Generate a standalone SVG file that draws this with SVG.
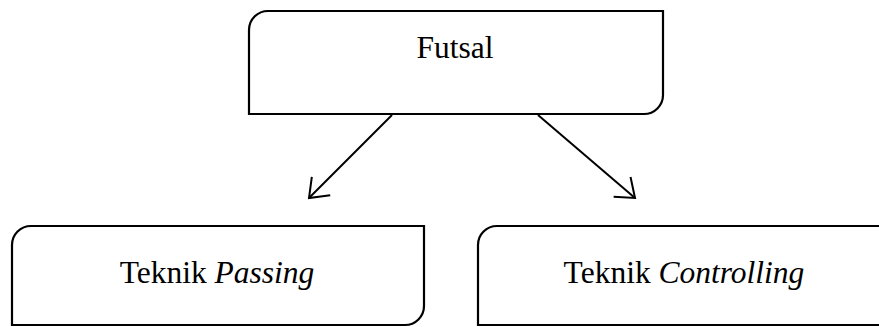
<svg xmlns="http://www.w3.org/2000/svg" width="879" height="327" viewBox="0 0 879 327">
<style>
.box{fill:#fff;stroke:#000;stroke-width:2.2}
.con{stroke:#000;stroke-width:2;fill:none}
</style>
<defs>
<marker id="arr" viewBox="0 -5 24 30" refX="20" refY="10" markerWidth="24" markerHeight="30" markerUnits="userSpaceOnUse" orient="auto">
<path d="M3,-3 L20,10 L3,23" fill="none" stroke="#000" stroke-width="2"/>
</marker>
</defs>
<g id="connectors">
<line class="con" x1="392" y1="115" x2="309" y2="198" marker-end="url(#arr)"/>
<line class="con" x1="538" y1="115" x2="635" y2="198" marker-end="url(#arr)"/>
</g>
<g font-family="'Liberation Serif', 'Times New Roman', serif" font-size="31.5" fill="#000" text-anchor="middle">
<g id="futsal">
<path class="box" d="M268,11 H663 V95 A19,19 0 0 1 644,114 H249 V30 A19,19 0 0 1 268,11 Z"/>
<text x="455" y="58">Futsal</text>
</g>
<g id="passing">
<path class="box" d="M31,226 H424 V306 A19,19 0 0 1 405,325 H12 V245 A19,19 0 0 1 31,226 Z"/>
<text x="217" y="283">Teknik <tspan font-style="italic">Passing</tspan></text>
</g>
<g id="controlling">
<path class="box" d="M497,226 H900 V325 H478 V245 A19,19 0 0 1 497,226 Z"/>
<text x="684" y="283">Teknik <tspan font-style="italic">Controlling</tspan></text>
</g>
</g>
</svg>
